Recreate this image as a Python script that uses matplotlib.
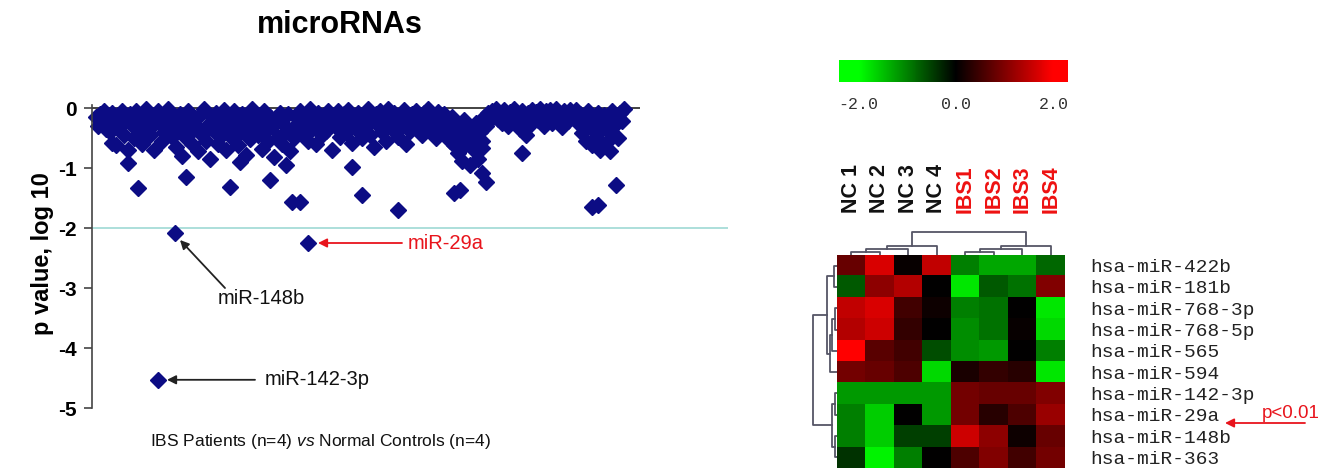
import numpy as np
import matplotlib
matplotlib.use('Agg')
import matplotlib.pyplot as plt
from matplotlib.colors import LinearSegmentedColormap
from matplotlib import transforms

plt.rcParams['font.family'] = ['Liberation Sans', 'DejaVu Sans']
plt.rcParams['mathtext.fontset'] = 'custom'
plt.rcParams['mathtext.it'] = 'Liberation Sans:italic'
plt.rcParams['mathtext.rm'] = 'Liberation Sans'

# ---- scatter data: log10 p value per microRNA (index order) ----
main_y = [
    -0.15, -0.3, -0.1, -0.22, -0.05, -0.35, -0.18, -0.4, -0.08, -0.25, -0.62, -0.12, -0.3, -0.05, -0.45, -0.2, -0.7, -0.1, -0.28, -0.5,
    -0.05, -0.15, -0.38, -0.6, -0.22, -0.02, -0.1, -0.45, -0.3, -0.7, -0.15, -0.05, -0.25, -0.55, -0.4, -0.12, -0.02, -0.3, -0.48, -0.2,
    -0.65, -0.35, -0.1, -0.8, -0.25, -0.5, -0.05, -0.42, -0.6, -0.18, -0.3, -0.72, -0.12, -0.45, -0.02, -0.55, -0.28, -0.85, -0.15, -0.38,
    -0.08, -0.6, -0.25, -0.45, -0.03, -0.7, -0.32, -0.15, -0.5, -0.05, -0.22, -0.62, -0.4, -0.1, -0.3, -0.78, -0.18, -0.52, -0.02, -0.35,
    -0.12, -0.45, -0.25, -0.68, -0.05, -0.38, -0.55, -0.15, -0.3, -0.82, -0.2, -0.48, -0.08, -0.6, -0.28, -0.4, -0.1, -0.72, -0.35, -0.5,
    -0.15, -0.3, -0.05, -0.42, -0.22, -0.1, -0.55, -0.02, -0.35, -0.18, -0.6, -0.08, -0.28, -0.45, -0.12, -0.38, -0.05, -0.25, -0.7, -0.15,
    -0.32, -0.05, -0.48, -0.2, -0.1, -0.4, -0.03, -0.28, -0.58, -0.15, -0.35, -0.08, -0.22, -0.5, -0.12, -0.3, -0.02, -0.45, -0.18, -0.65,
    -0.1, -0.28, -0.05, -0.4, -0.15, -0.55, -0.02, -0.25, -0.35, -0.08, -0.18, -0.48, -0.12, -0.3, -0.04, -0.6, -0.2, -0.38, -0.1, -0.25,
    -0.05, -0.32, -0.15, -0.45, -0.08, -0.22, -0.02, -0.38, -0.12, -0.28, -0.5, -0.06, -0.18, -0.35, -0.1, -0.42, -0.25, -0.55, -0.15, -0.62,
    -0.3, -0.75, -0.45, -0.88, -0.2, -0.6, -0.35, -0.95, -0.5, -0.7, -0.25, -0.85, -0.4, -0.55, -0.15, -0.3, -0.08, -0.2, -0.05, -0.12,
    -0.02, -0.18, -0.08, -0.25, -0.04, -0.12, -0.3, -0.06, -0.15, -0.02, -0.22, -0.1, -0.35, -0.05, -0.18, -0.45, -0.08, -0.28, -0.03, -0.14,
    -0.06, -0.2, -0.02, -0.12, -0.3, -0.05, -0.15, -0.04, -0.25, -0.08, -0.02, -0.18, -0.1, -0.32, -0.05, -0.12, -0.22, -0.03, -0.08, -0.16,
    -0.04, -0.25, -0.1, -0.42, -0.15, -0.55, -0.05, -0.3, -0.62, -0.2, -0.48, -0.08, -0.7, -0.35, -0.12, -0.58, -0.25, -0.4, -0.05, -0.3,
    -0.15, -0.5, -0.08, -0.22, -0.02,
]
out_x = [10, 18, 23, 47, 69, 74, 89, 97, 100, 104, 130, 135, 153, 181, 184, 195, 195, 197, 215, 250, 253, 259, 262]
out_y = [-0.58, -0.92, -1.33, -1.15, -1.32, -0.9, -1.2, -0.95, -1.57, -1.57, -0.98, -1.45, -1.7,
         -1.42, -1.37, -0.67, -1.08, -1.23, -0.75, -1.65, -1.62, -0.72, -1.28]
hit_names = ['miR-142-3p', 'miR-148b', 'miR-29a']
hit_x = [33, 41.5, 108]
hit_y = [-4.53, -2.08, -2.25]
cutoff = -2.0
yticks = [0, -1, -2, -3, -4, -5]

# ---- heatmap data ----
samples = ['NC 1', 'NC 2', 'NC 3', 'NC 4', 'IBS1', 'IBS2', 'IBS3', 'IBS4']
mirnas = ['hsa-miR-422b', 'hsa-miR-181b', 'hsa-miR-768-3p', 'hsa-miR-768-5p', 'hsa-miR-565',
          'hsa-miR-594', 'hsa-miR-142-3p', 'hsa-miR-29a', 'hsa-miR-148b', 'hsa-miR-363']
expr = np.array([
    [0.8, 1.7, 0.05, 1.5, -1.0, -1.3, -1.3, -0.8],
    [-0.7, 1.1, 1.4, 0.0, -1.8, -0.7, -0.9, 1.0],
    [1.5, 1.7, 0.5, 0.1, -1.0, -0.9, 0.0, -1.8],
    [1.4, 1.6, 0.4, 0.0, -1.1, -0.9, 0.05, -1.7],
    [2.0, 0.7, 0.5, -0.6, -1.1, -1.2, 0.0, -1.0],
    [0.9, 0.8, 0.6, -1.7, 0.2, 0.4, 0.3, -1.8],
    [-1.2, -1.2, -1.2, -1.2, 0.9, 0.8, 0.8, 1.0],
    [-1.0, -1.6, 0.0, -1.2, 0.9, 0.3, 0.6, 1.2],
    [-1.0, -1.6, -0.5, -0.5, 1.6, 1.1, 0.1, 0.8],
    [-0.4, -1.9, -1.0, 0.0, 0.6, 1.0, 0.5, 0.9],
])
# linkage rows: (cluster a, cluster b, height)
col_links = [(0, 1, 1.0), (8, 2, 2.0), (9, 3, 3.0), (4, 5, 1.0), (11, 6, 2.0), (12, 7, 3.0), (10, 13, 7.7)]
row_links = [(0, 1, 1.0), (2, 3, 0.7), (11, 4, 1.5), (12, 5, 2.3), (10, 13, 3.3),
             (6, 7, 0.8), (8, 9, 0.8), (15, 16, 1.6), (14, 17, 8.0)]

W, H = 1340, 473
fig = plt.figure(figsize=(W / 100, H / 100), dpi=100)


def px_rect(x0, y0, x1, y1):
    # pixel box (top-left origin) -> figure fraction rect
    return [x0 / W, (H - y1) / H, (x1 - x0) / W, (y1 - y0) / H]


navy = '#0c0c84'
ax = fig.add_axes(px_rect(92, 96, 728, 411))
ax.set_xlim(0, 318)
ax.set_ylim(-5.05, 0.2)
ax.plot(np.arange(len(main_y)) + 2, main_y, 'D', color=navy, ms=8.5, mec=navy, clip_on=False)
ax.plot(out_x, out_y, 'D', color=navy, ms=8.5, mec=navy)
ax.plot(hit_x, hit_y, 'D', color=navy, ms=8, mec=navy)
ax.hlines(0, 0, 274, color='#222222', lw=1.2, zorder=0)
ax.axhline(cutoff, color='#a6dcd8', lw=1.3, zorder=0)
for s in ['top', 'right', 'bottom']:
    ax.spines[s].set_visible(False)
ax.spines['left'].set_bounds(-5, 0.05)
ax.spines['left'].set_color('#444444')
ax.spines['left'].set_linewidth(1.2)
ax.set_xticks([])
ax.set_yticks(yticks)
ax.set_yticklabels([str(t) for t in yticks], fontsize=15, fontweight='bold')
ax.tick_params(axis='y', direction='out', length=6, width=1.2, color='#444444', pad=5)
ax.set_ylabel('p value, log 10', fontsize=17, fontweight='bold', labelpad=3)

black_arrow = dict(arrowstyle='-|>', color='#222222', lw=1.3, mutation_scale=13, shrinkA=0, shrinkB=0)
red_arrow = dict(arrowstyle='-|>', color='#e8141c', lw=1.3, mutation_scale=13, shrinkA=0, shrinkB=0)
ax.annotate('', xy=(37.5, -4.53), xytext=(81.5, -4.53), arrowprops=black_arrow)
ax.text(86.5, -4.53, hit_names[0], fontsize=14.5, ha='left', va='center', color='#111111')
ax.annotate('', xy=(44, -2.2), xytext=(66.5, -3.0), arrowprops=black_arrow)
ax.text(63, -3.17, hit_names[1], fontsize=14.5, ha='left', va='center', color='#111111')
ax.annotate('', xy=(113, -2.25), xytext=(155, -2.25), arrowprops=red_arrow)
ax.text(158, -2.25, hit_names[2], fontsize=14.5, ha='left', va='center', color='#e8141c')

fig.text(340 / W, 1 - 25 / H, 'microRNAs', fontsize=22, fontweight='bold', ha='center', va='center')
fig.text(320 / W, 1 - 441 / H, r'IBS Patients (n=4) $\it{vs}$ Normal Controls (n=4)',
         fontsize=12.5, ha='center', va='center', color='#111111')

# ---- heatmap ----
cmap = LinearSegmentedColormap.from_list('gkr', ['#00ff00', '#000000', '#ff0000'])
hax = fig.add_axes(px_rect(837, 255, 1065, 468))
hax.imshow(expr, cmap=cmap, vmin=-2, vmax=2, aspect='auto', interpolation='nearest',
           extent=(0, len(samples), len(mirnas), 0))
hax.set_xticks([])
hax.set_yticks(np.arange(len(mirnas)) + 0.5)
hax.set_yticklabels(mirnas, family=['Liberation Mono', 'DejaVu Sans Mono'], fontsize=14, color='#222222')
hax.tick_params(axis='y', left=False, right=False, labelleft=False, labelright=True, pad=15)
for s in hax.spines.values():
    s.set_visible(False)

tr = transforms.blended_transform_factory(hax.transData, fig.transFigure)
for i, name in enumerate(samples):
    hax.text(i + 0.5, (H - 213) / H, name, transform=tr, rotation=90, ha='center', va='bottom',
             fontsize=15.5, fontweight='bold', color='#ee1111' if name.startswith('IBS') else '#111111')


def draw_tree(a, links, n, top):
    pos = list(np.arange(n) + 0.5)
    hgt = [0.0] * n
    for ca, cb, h in links:
        xs = [pos[ca], pos[ca], pos[cb], pos[cb]]
        ys = [hgt[ca], h, h, hgt[cb]]
        if top:
            a.plot(xs, ys, color='#555566', lw=1.3)
        else:
            a.plot(ys, xs, color='#555566', lw=1.3)
        pos.append((pos[ca] + pos[cb]) / 2)
        hgt.append(h)


cax_t = fig.add_axes(px_rect(837, 230, 1065, 255))
draw_tree(cax_t, col_links, len(samples), True)
cax_t.set_xlim(0, len(samples))
cax_t.set_ylim(0, 25 / 3)
cax_t.axis('off')

rax = fig.add_axes(px_rect(810, 255, 837, 468))
draw_tree(rax, row_links, len(mirnas), False)
rax.set_ylim(len(mirnas), 0)
rax.set_xlim(9, 0)
rax.axis('off')

# ---- colour key ----
kax = fig.add_axes(px_rect(839, 60, 1068, 82))
grad = np.linspace(-2.4, 2.3, 300).reshape(1, -1)
kax.imshow(grad, cmap=cmap, vmin=-2, vmax=2, aspect='auto', extent=(-2.4, 2.3, 0, 1))
kax.set_xlim(-2.4, 2.3)
kax.set_yticks([])
kax.set_xticks([-2, 0, 2])
kax.set_xticklabels(['-2.0', '0.0', '2.0'], family=['Liberation Mono', 'DejaVu Sans Mono'],
                    fontsize=12, color='#333333')
kax.tick_params(axis='x', length=0, pad=11)
for s in kax.spines.values():
    s.set_visible(False)

# ---- p<0.01 marker ----
fig.text(1262 / W, (H - 418) / H, 'p<0.01', fontsize=13.5, color='#e8141c',
         family=['Liberation Sans Narrow', 'Liberation Sans', 'DejaVu Sans'], ha='left', va='baseline')
ax.annotate('', xy=(1225, H - 423), xytext=(1305, H - 423), xycoords='figure pixels',
            textcoords='figure pixels', arrowprops=red_arrow, annotation_clip=False)

fig.savefig('out.png', dpi=100)
